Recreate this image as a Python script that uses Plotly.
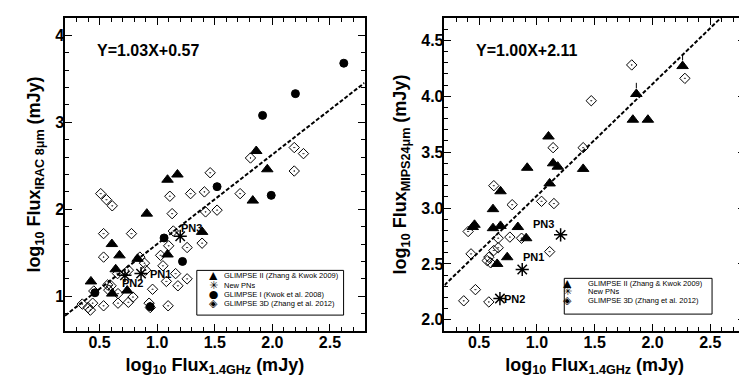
import plotly.graph_objects as go

# ---- left panel: IRAC 8um vs 1.4GHz ----
l_tri_x = [1.86, 1.956, 1.176, 1.09, 1.83, 0.91, 1.39, 0.607, 0.673, 1.09, 0.83, 0.64, 0.425, 0.74, 0.61]
l_tri_y = [2.67, 2.46, 2.40, 2.34, 2.10, 1.95, 1.74, 1.60, 1.47, 1.48, 1.43, 1.31, 1.17, 1.065, 1.03]

l_circ_x = [2.62, 2.20, 1.915, 1.52, 1.99, 1.06, 1.22, 0.94, 0.46]
l_circ_y = [3.68, 3.33, 3.08, 2.26, 2.16, 1.67, 1.40, 0.88, 1.04]

l_dia_x = [2.19, 2.27, 1.81, 2.19, 1.46, 0.51, 0.56, 0.61, 1.72, 1.11, 1.29, 1.41, 1.13, 1.42, 1.52,
           0.535, 0.777, 1.14, 1.10, 1.39, 1.26, 0.535, 1.03, 0.85, 0.89, 1.05, 0.75, 0.90, 1.16, 1.26,
           0.656, 0.57, 0.60, 1.08, 1.18, 0.96, 0.45, 0.58, 0.66, 0.79, 0.35, 0.40, 0.44, 0.42, 0.535,
           0.66, 0.75, 0.93, 0.94, 1.095]
l_dia_y = [2.71, 2.64, 2.59, 2.44, 2.42, 2.18, 2.11, 2.04, 2.18, 2.15, 2.18, 2.20, 1.95, 1.97, 1.99,
           1.72, 1.72, 1.75, 1.58, 1.61, 1.56, 1.45, 1.47, 1.45, 1.38, 1.35, 1.30, 1.30, 1.26, 1.20,
           1.26, 1.13, 1.12, 1.17, 1.12, 1.08, 1.06, 1.07, 1.03, 0.99, 0.91, 0.87, 0.92, 0.84, 0.89,
           0.92, 0.93, 0.92, 0.87, 0.89]

l_pn_names = ["PN1", "PN2", "PN3"]
l_pn_x = [0.86, 0.72, 1.20]
l_pn_y = [1.26, 1.24, 1.69]

# ---- right panel: MIPS 24um vs 1.4GHz ----
r_tri_x = [2.26, 1.86, 1.83, 1.96, 1.10, 0.916, 1.14, 1.18, 1.40, 1.11, 0.685, 0.62, 0.46, 0.445,
           0.62, 0.685, 0.835, 0.907, 0.743, 0.656]
r_tri_y = [4.27, 4.02, 3.79, 3.79, 3.64, 3.36, 3.40, 3.37, 3.35, 3.22, 3.15, 2.99, 2.85, 2.83,
           2.82, 2.84, 2.83, 2.73, 2.56, 2.50]

r_dia_x = [1.82, 2.28, 1.47, 1.14, 1.40, 0.627, 0.786, 1.04, 1.147, 0.405, 0.665, 0.766, 0.867,
           0.665, 0.627, 1.11, 0.43, 0.584, 0.57, 0.60, 0.468, 0.367, 0.584]
r_dia_y = [4.28, 4.16, 3.96, 3.54, 3.54, 3.20, 3.03, 3.06, 3.04, 2.79, 2.73, 2.74, 2.73,
           2.645, 2.62, 2.61, 2.59, 2.56, 2.53, 2.51, 2.27, 2.17, 2.16]

r_lim_x = [2.26, 1.86]   # small upward limit marks
r_lim_y = [4.27, 4.02]

r_pn_names = ["PN1", "PN2", "PN3"]
r_pn_x = [0.873, 0.68, 1.205]
r_pn_y = [2.45, 2.19, 2.76]

fits = [(1.03, 0.57), (1.00, 2.11)]
fit_x = [0.2, 2.8]

l_legend = [("▲", "GLIMPSE II (Zhang & Kwok 2009)"), ("✳", "New PNs"),
            ("●", "GLIMPSE I (Kwok et al. 2008)"), ("◈", "GLIMPSE 3D (Zhang et al. 2012)")]
r_legend = [("▲", "GLIMPSE II (Zhang & Kwok 2009)"), ("✳", "New PNs"),
            ("◈", "GLIMPSE 3D (Zhang et al. 2012)")]

FONT = "Liberation Sans"
W, H = 747, 387
ML, MR, MT, MB = 57, 9, 8, 64
PW, PH = W - ML - MR, H - MT - MB

fig = go.Figure()


def pts(x, y, symbol, size, xa, ya, lw=1):
    fig.add_trace(go.Scatter(
        x=x, y=y, mode="markers", xaxis=xa, yaxis=ya, showlegend=False,
        marker=dict(symbol=symbol, size=size, color="black",
                    line=dict(color="black", width=lw))))


# left
pts(l_dia_x, l_dia_y, "diamond-open-dot", 8, "x", "y")
pts(l_tri_x, l_tri_y, "triangle-up", 10, "x", "y")
pts(l_circ_x, l_circ_y, "circle", 8, "x", "y")
pts(l_pn_x, l_pn_y, "asterisk-open", 11, "x", "y", lw=1.5)

# right
pts(r_dia_x, r_dia_y, "diamond-open-dot", 8, "x2", "y2")
pts(r_tri_x, r_tri_y, "triangle-up", 10, "x2", "y2")
pts(r_pn_x, r_pn_y, "asterisk-open", 11, "x2", "y2", lw=1.5)
pts(r_lim_x, [v + 0.075 for v in r_lim_y], "line-ns-open", 4, "x2", "y2")

# fitted lines
for (m, c), xa, ya in zip(fits, ["x", "x2"], ["y", "y2"]):
    fig.add_trace(go.Scatter(x=fit_x, y=[m * v + c for v in fit_x], mode="lines", xaxis=xa, yaxis=ya,
                             showlegend=False, line=dict(color="black", width=2, dash="4px,2px")))

# PN labels
l_lab_pos = [(1.03, 1.25), (0.79, 1.15), (1.30, 1.79)]
r_lab_pos = [(0.97, 2.56), (0.81, 2.19), (1.06, 2.86)]
for names, pos, xr, yr in [(l_pn_names, l_lab_pos, "x", "y"), (r_pn_names, r_lab_pos, "x2", "y2")]:
    for n, (ax, ay) in zip(names, pos):
        fig.add_annotation(x=ax, y=ay, xref=xr, yref=yr, text="<b>" + n + "</b>", showarrow=False,
                           font=dict(family=FONT, size=11, color="black"))

# equations
for (m, c), xr in zip(fits, ["x domain", "x2 domain"]):
    fig.add_annotation(x=0.1, y=0.93, xref=xr, yref="paper", xanchor="left", showarrow=False,
                       text="<b>Y=%.2fX+%.2f</b>" % (m, c),
                       font=dict(family=FONT, size=16, color="black"))


def px2paper(px, py):
    return (px - ML) / PW, (H - MB - py) / PH


# hand-drawn legends (boxes in pixel positions)
for items, box, row0, step, keyx, textx in [
        (l_legend, (189, 262, 336, 307), 273, 9.4, 199, 215),
        (r_legend, (557, 270, 705, 306), 280.5, 8.6, 567, 580)]:
    x0, y1 = px2paper(box[0], box[1])
    x1, y0 = px2paper(box[2], box[3])
    fig.add_shape(type="rect", xref="paper", yref="paper", x0=x0, x1=x1, y0=y0, y1=y1,
                  line=dict(color="black", width=1), fillcolor="white", layer="above")
    for i, (glyph, label) in enumerate(items):
        kx, ky = px2paper(keyx, row0 + i * step)
        tx, _ = px2paper(textx, 0)
        fig.add_annotation(x=kx, y=ky, xref="paper", yref="paper", text=glyph, showarrow=False,
                           width=11, height=9, borderpad=0,
                           font=dict(family="DejaVu Sans", size=11, color="black"))
        fig.add_annotation(x=tx, y=ky, xref="paper", yref="paper", xanchor="left", text=label,
                           showarrow=False, height=9, borderpad=0,
                           font=dict(family=FONT, size=7.5, color="black"))

axis_common = dict(showline=True, linecolor="black", linewidth=1.5, mirror="allticks",
                   ticks="inside", ticklen=7, tickwidth=1.2, tickcolor="black",
                   showgrid=False, zeroline=False, ticklabelstandoff=-4,
                   tickfont=dict(family=FONT, size=16, color="black", weight="bold"))

xtitle = "<b>log<sub>10</sub> Flux<sub>1.4GHz</sub> (mJy)</b>"
fig.update_layout(
    width=W, height=H,
    margin=dict(l=ML, r=MR, t=MT, b=MB),
    plot_bgcolor="white", paper_bgcolor="white",
    font=dict(family=FONT, color="black"),
    showlegend=False,
    xaxis=dict(axis_common, domain=[0, 0.4405], range=[0.2, 2.8], dtick=0.5, tick0=0, tickformat=".1f",
               minor=dict(dtick=0.1, ticklen=4, ticks="inside", tickcolor="black"),
               title=dict(text=xtitle, font=dict(size=18), standoff=8)),
    yaxis=dict(axis_common, range=[0.6, 4.2], dtick=1, tick0=0,
               minor=dict(dtick=0.2, ticklen=4, ticks="inside", tickcolor="black"),
               title=dict(text="<b>log<sub>10</sub> Flux<sub>IRAC 8μm</sub> (mJy)</b>", font=dict(size=18),
                          standoff=10)),
    xaxis2=dict(axis_common, domain=[0.558, 1], range=[0.2, 2.8], dtick=0.5, tick0=0, tickformat=".1f",
                anchor="y2",
                minor=dict(dtick=0.1, ticklen=4, ticks="inside", tickcolor="black"),
                title=dict(text=xtitle, font=dict(size=18), standoff=8)),
    yaxis2=dict(axis_common, range=[1.9, 4.7], dtick=0.5, tick0=0, tickformat=".1f", anchor="x2",
                minor=dict(dtick=0.1, ticklen=4, ticks="inside", tickcolor="black"),
                title=dict(text="<b>log<sub>10</sub> Flux<sub>MIPS24μm</sub> (mJy)</b>", font=dict(size=18),
                           standoff=10)),
)

fig.write_html("out.html")
